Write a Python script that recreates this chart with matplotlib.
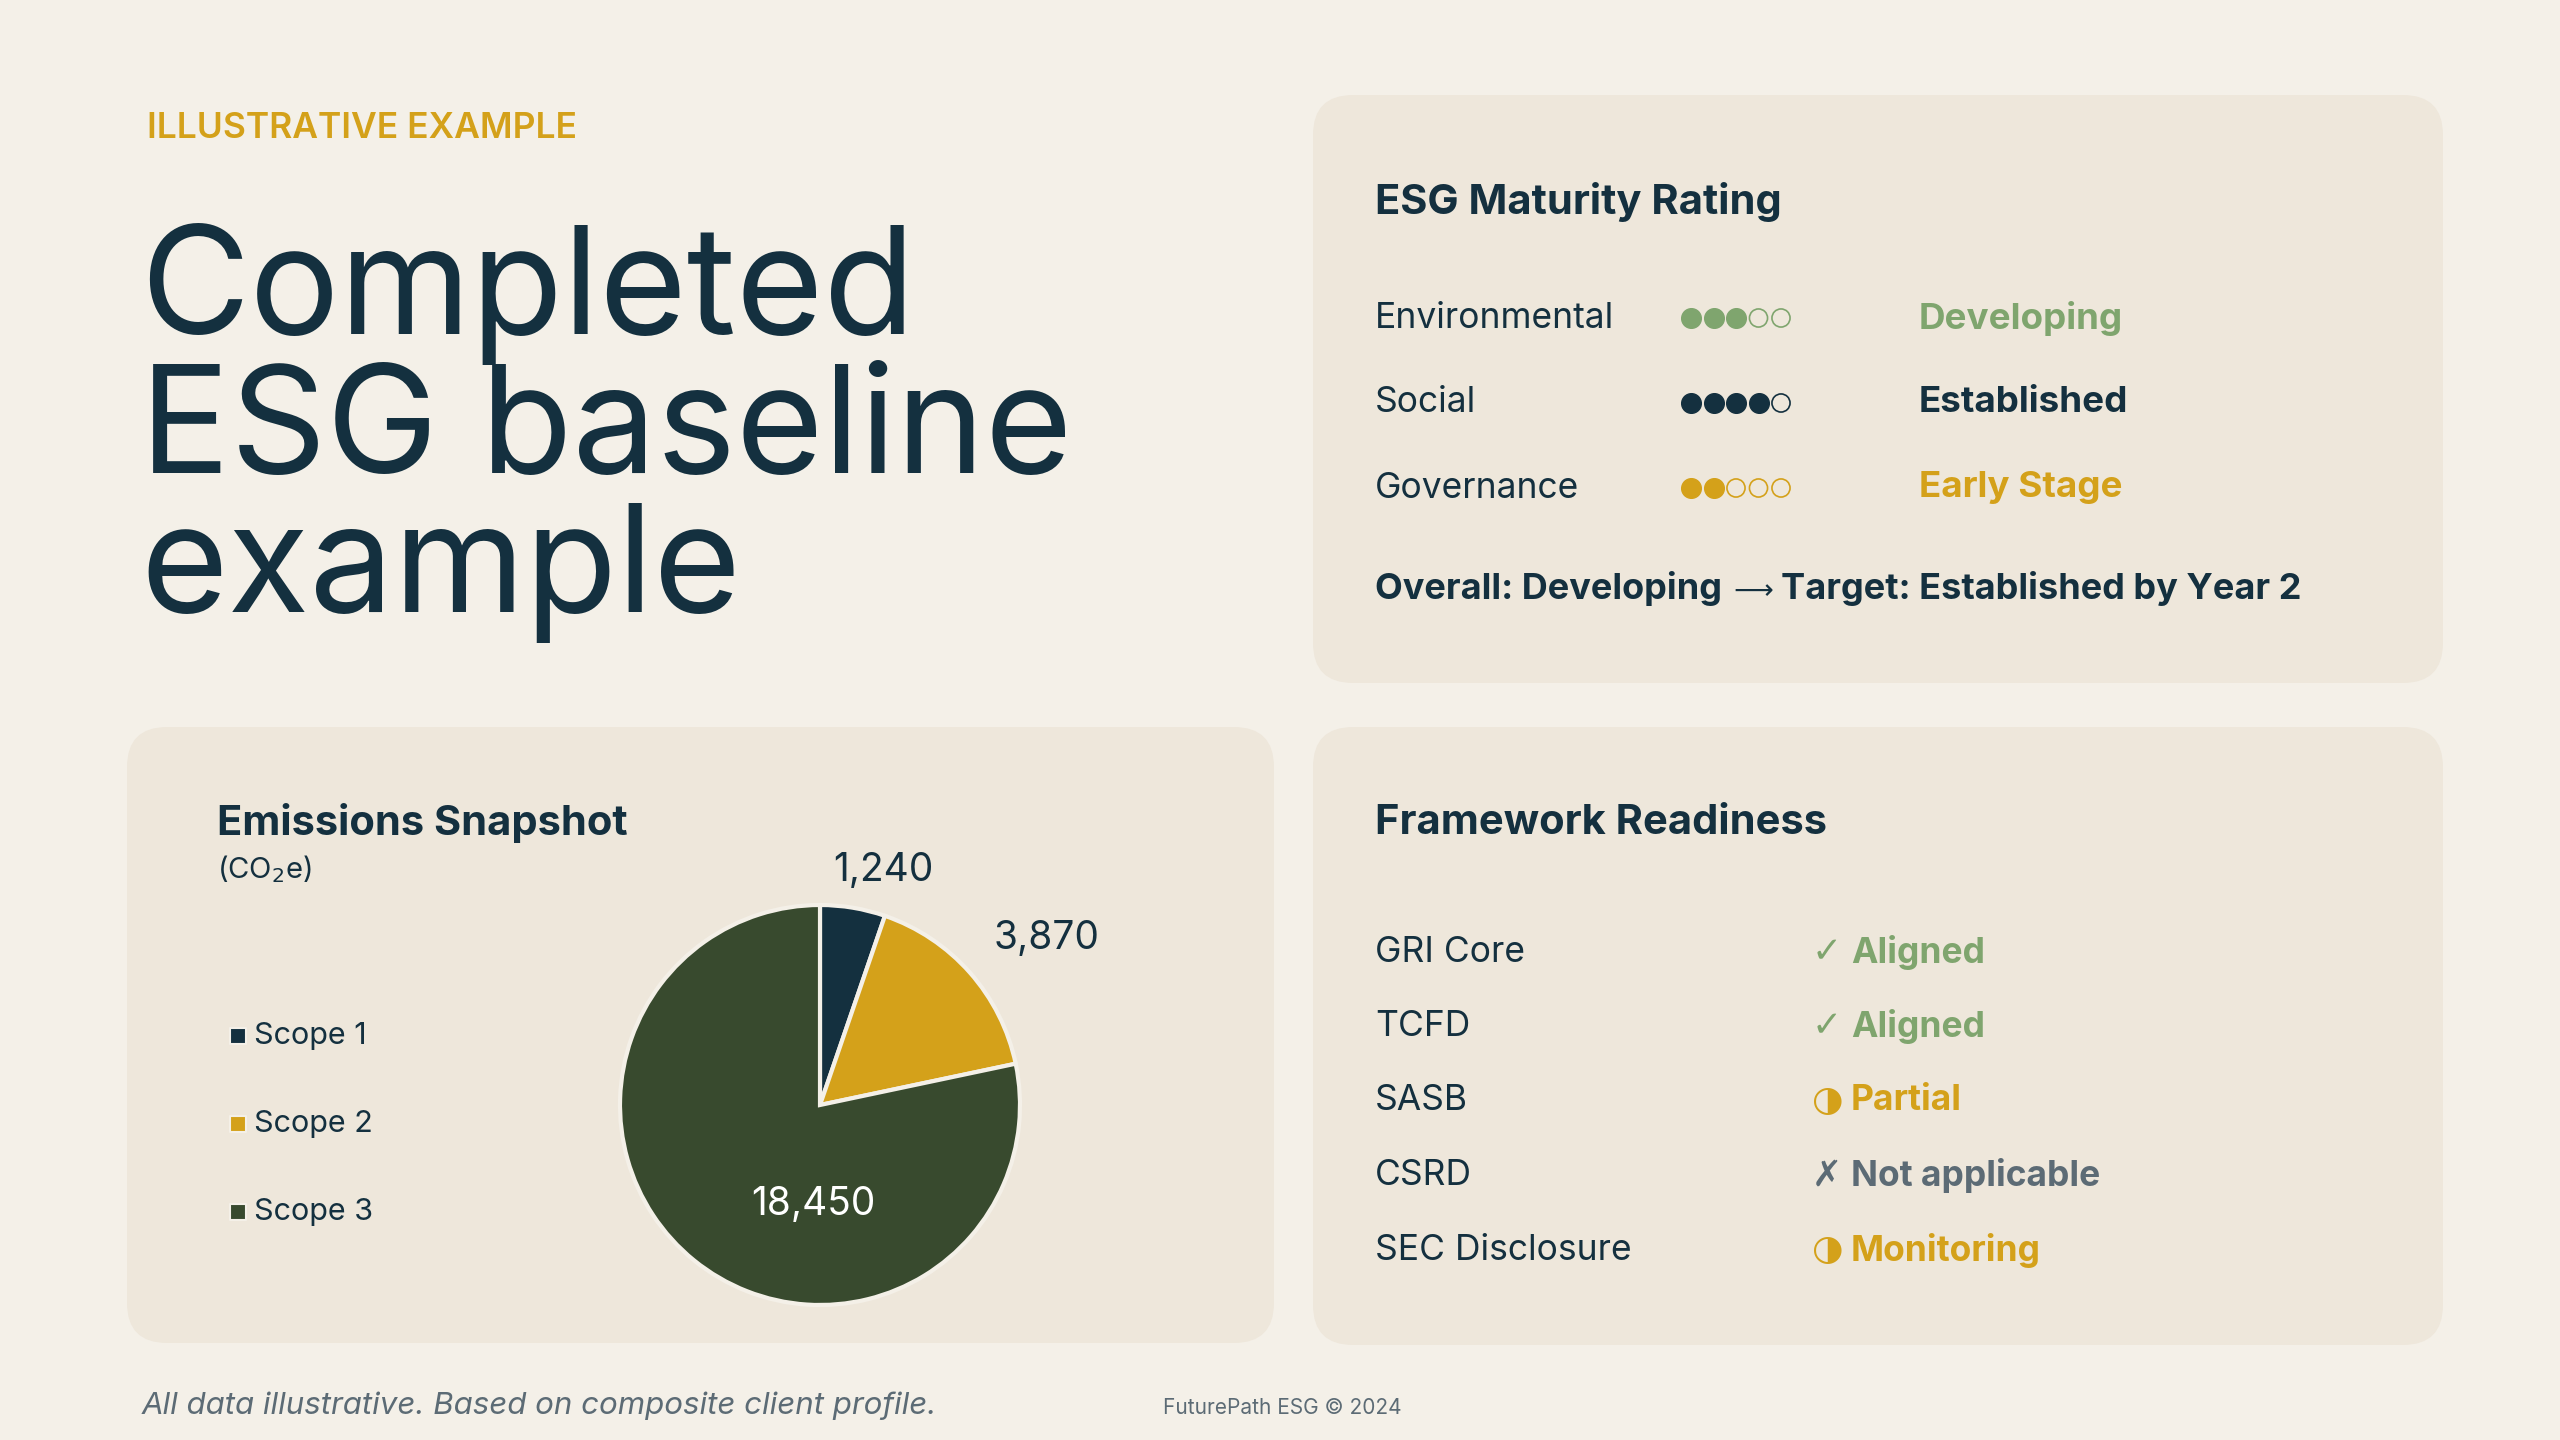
import matplotlib.pyplot as plt
from matplotlib.patches import FancyBboxPatch

plt.rcParams['font.family'] = ['Inter', 'DejaVu Sans']

# colours
BG = '#F4F0E8'
PANEL = '#EEE7DB'
NAVY = '#14303F'
GOLD = '#D4A11A'
SAGE = '#7FA56E'
FOREST = '#384A2E'
SLATE = '#5C6B75'

# data
pillars = ['Environmental', 'Social', 'Governance']
pillar_scores = [3, 4, 2]
pillar_max = 5
pillar_status = ['Developing', 'Established', 'Early Stage']
pillar_colors = [SAGE, NAVY, GOLD]

scopes = ['Scope 1', 'Scope 2', 'Scope 3']
emissions = [1240, 3870, 18450]
scope_colors = [NAVY, GOLD, FOREST]

frameworks = ['GRI Core', 'TCFD', 'SASB', 'CSRD', 'SEC Disclosure']
fw_icons = ['\u2713', '\u2713', '\u25D1', '\u2717', '\u25D1']
fw_status = ['Aligned', 'Aligned', 'Partial', 'Not applicable', 'Monitoring']
fw_colors = [SAGE, SAGE, GOLD, SLATE, GOLD]

W, H = 2560, 1440
fig = plt.figure(figsize=(W / 100, H / 100), dpi=100, facecolor=BG)
bg = fig.add_axes([0, 0, 1, 1])
bg.set_xlim(0, W)
bg.set_ylim(H, 0)
bg.axis('off')

# panels
for x0, y0, x1, y1 in [(1313, 95, 2443, 683), (127, 727, 1274, 1343), (1313, 727, 2443, 1345)]:
    bg.add_patch(FancyBboxPatch((x0, y0), x1 - x0, y1 - y0,
                                boxstyle='round,pad=0,rounding_size=40',
                                fc=PANEL, ec='none', zorder=0))

# header
bg.text(147, 129, 'ILLUSTRATIVE EXAMPLE', color=GOLD, fontsize=25.5, fontweight='semibold', va='center')
for i, line in enumerate(['Completed', 'ESG baseline', 'example']):
    bg.text(140, 334 + i * 139, line, color=NAVY, fontsize=108, va='baseline')

# ESG maturity panel
bg.text(1375, 202, 'ESG Maturity Rating', color=NAVY, fontsize=30, fontweight='bold', va='center')
for i, (name, score, status, col) in enumerate(zip(pillars, pillar_scores, pillar_status, pillar_colors)):
    y = 318 + i * 85
    bg.text(1375, y, name, color=NAVY, fontsize=25.5, va='center')
    xs = [1691 + k * 22.5 for k in range(pillar_max)]
    filled = [k < score for k in range(pillar_max)]
    bg.scatter([x for x, f in zip(xs, filled) if f], [y] * score, s=200, c=col, ec=col, zorder=3)
    bg.scatter([x for x, f in zip(xs, filled) if not f], [y] * (pillar_max - score), s=170,
               facecolors='none', edgecolors=col, linewidths=1.2, zorder=3)
    bg.text(1919, y, status, color=col, fontsize=26.5, fontweight='bold', va='center')
bg.text(1375, 589, 'Overall: Developing', color=NAVY, fontsize=26, fontweight='bold', va='center')
bg.text(1733, 591, '\u27f6', color=NAVY, fontsize=20, va='center', family=['DejaVu Sans'])
bg.text(1781, 589, 'Target: Established by Year 2', color=NAVY, fontsize=26, fontweight='bold', va='center')

# emissions panel
bg.text(217, 823, 'Emissions Snapshot', color=NAVY, fontsize=30, fontweight='bold', va='center')
bg.text(217, 869, '(CO$_2$e)', color=NAVY, fontsize=21, va='center')
for i, (name, col) in enumerate(zip(scopes, scope_colors)):
    y = 1036 + i * 88
    bg.scatter([238], [y], s=130, marker='s', c=col, ec=BG, linewidths=1.5, zorder=3)
    bg.text(254, y, name, color=NAVY, fontsize=22, va='center')

cx, cy, r = 820, 1105, 204
pie_ax = fig.add_axes([(cx - r) / W, 1 - (cy + r) / H, 2 * r / W, 2 * r / H])
pie_ax.pie(emissions, colors=scope_colors, startangle=90, counterclock=False,
           wedgeprops=dict(edgecolor=BG, linewidth=3))
pie_ax.set_xlim(-1.02, 1.02)
pie_ax.set_ylim(-1.02, 1.02)

label_pos = [(883, 871), (1047, 938), (813, 1204)]
label_cols = [NAVY, NAVY, 'white']
for (lx, ly), v, c in zip(label_pos, emissions, label_cols):
    pie_ax.text(lx, ly, f'{v:,}', color=c, fontsize=28, ha='center', va='center',
                transform=bg.transData, clip_on=False, zorder=5)

# framework panel
bg.text(1375, 823, 'Framework Readiness', color=NAVY, fontsize=30, fontweight='bold', va='center')
for i, (name, icon, st, col) in enumerate(zip(frameworks, fw_icons, fw_status, fw_colors)):
    y = 952 + i * 74.5
    bg.text(1375, y, name, color=NAVY, fontsize=25.5, va='center')
    bg.text(1812, y, icon, color=col, fontsize=26, va='center', family=['DejaVu Sans'])
    bg.text(1851, y, st, color=col, fontsize=25.5, fontweight='bold', va='center')

# footer
bg.text(142, 1406, 'All data illustrative. Based on composite client profile.', color=SLATE,
        fontsize=22.5, style='italic', va='center')
bg.text(1163, 1408, 'FuturePath ESG \u00a9 2024', color=SLATE, fontsize=15, va='center')

fig.savefig('out.png', dpi=100, facecolor=BG)
